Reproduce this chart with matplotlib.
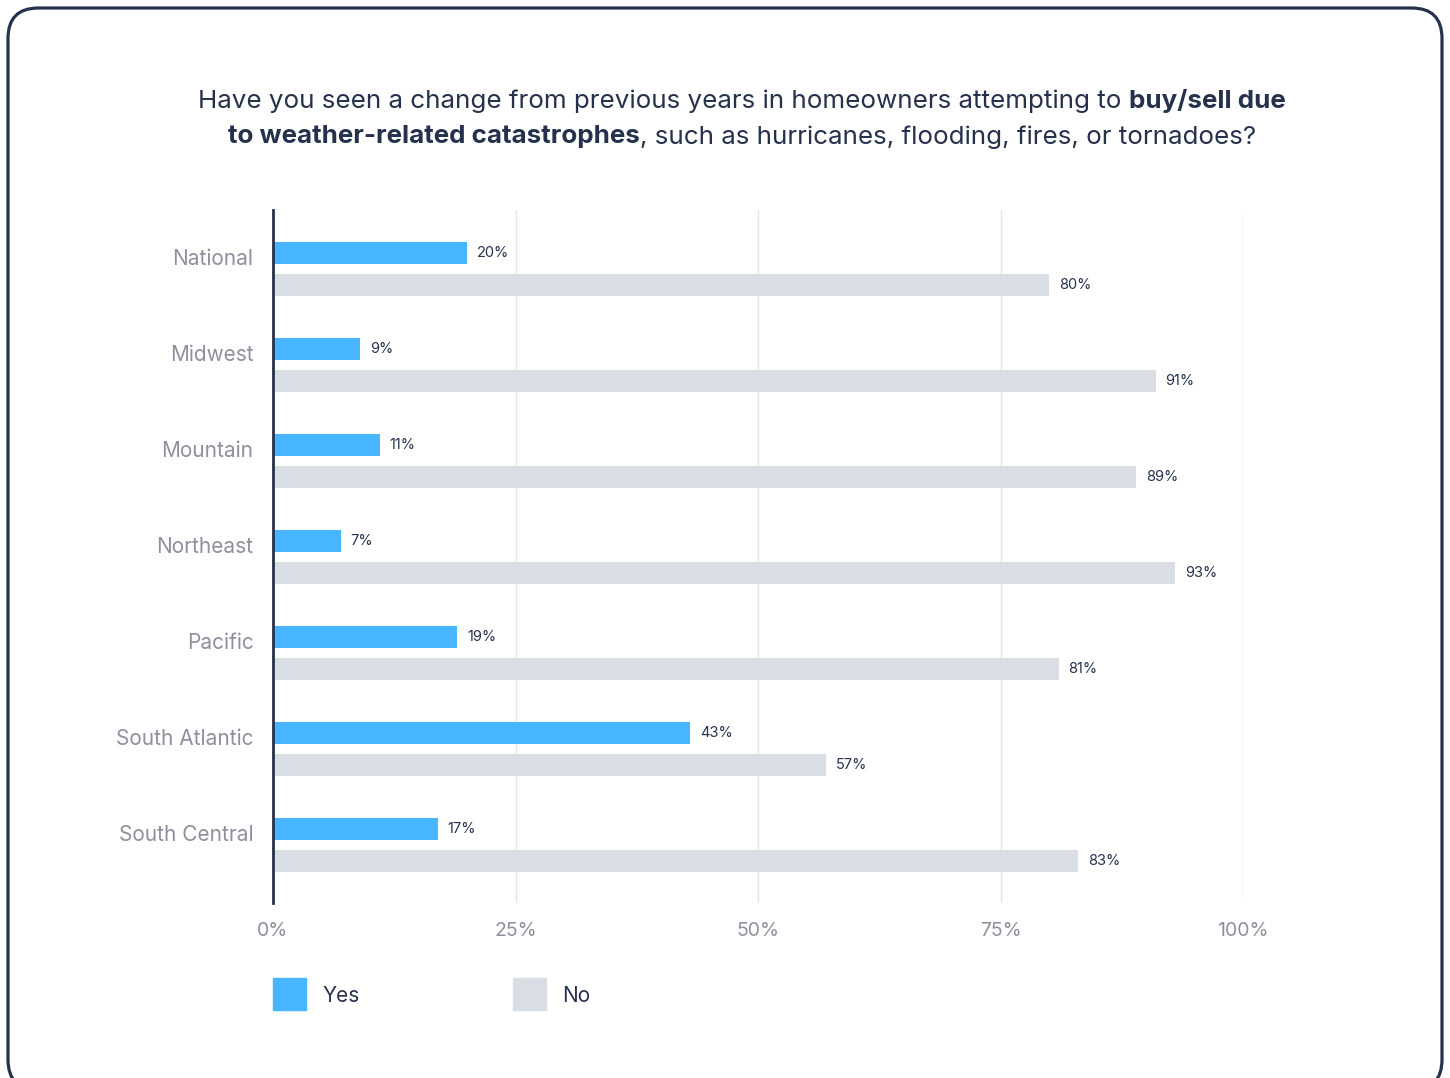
import matplotlib.pyplot as plt
from matplotlib.patches import FancyBboxPatch, Rectangle
import numpy as np

regions = ['National', 'Midwest', 'Mountain', 'Northeast', 'Pacific',
           'South Atlantic', 'South Central']
yes = [20, 9, 11, 7, 19, 43, 17]
no = [80, 91, 89, 93, 81, 57, 83]
series = [('Yes', yes, '#47B5FF'), ('No', no, '#D9DEE5')]
x_ticks = [0, 25, 50, 75, 100]

navy = '#26324D'
gray = '#8E909C'

plt.rcParams['font.family'] = ['Inter', 'DejaVu Sans']

W, H = 1450, 1078
fig = plt.figure(figsize=(W / 100, H / 100), dpi=100)
fig.patch.set_facecolor('white')

# Rounded card border (runs off the bottom edge)
card = FancyBboxPatch((8 / W, -12 / H), 1434 / W, (H - 8 + 12) / H,
                      boxstyle='round,pad=0,rounding_size=0.021',
                      transform=fig.transFigure, fill=False,
                      edgecolor=navy, linewidth=2.3, mutation_aspect=W / H)
fig.patches.append(card)

ax = fig.add_axes([273 / W, 1 - 903 / H, 970 / W, 693 / H])
idx = np.arange(len(regions))
bar_h = 0.229
offset = 0.167
for k, (name, vals, col) in enumerate(series):
    ypos = idx + (offset if k else -offset)
    ax.barh(ypos, vals, height=bar_h, color=col, zorder=2)
    for y, v in zip(ypos, vals):
        ax.annotate(f'{v}%', (v, y), xytext=(7, 0), textcoords='offset points',
                    ha='left', va='center', fontsize=10.5, color=navy)

ax.set_xlim(0, 100)
ax.set_ylim(len(regions) - 0.4, -0.615)
ax.set_xticks(x_ticks)
ax.set_xticklabels([f'{t}%' for t in x_ticks], fontsize=14, color=gray)
ax.set_yticks(idx - 0.125)
ax.set_yticklabels(regions, fontsize=15, color=gray)
ax.tick_params(axis='x', length=0, pad=14)
ax.tick_params(axis='y', length=0, pad=14)
for t in x_ticks[1:]:
    ax.axvline(t, color='#E3E5EA', linewidth=1, zorder=1)
for s in ['top', 'right', 'bottom']:
    ax.spines[s].set_visible(False)
ax.spines['left'].set_color(navy)
ax.spines['left'].set_linewidth(2)
ax.spines['left'].set_zorder(3)

# Title with bold phrases, laid out segment by segment
title_lines = [
    [('Have you seen a change from previous years in homeowners attempting to', 'normal'),
     ('buy/sell due', 'bold')],
    [('to weather-related catastrophes', 'bold'),
     (', such as hurricanes, flooding, fires, or tornadoes?', 'normal')],
]
title_size = 18.7
title_y = [1 - 101 / H, 1 - 137 / H]
cx = 742 / W
fig.canvas.draw()
renderer = fig.canvas.get_renderer()


def text_width(s, weight):
    t = fig.text(0, 0, s, fontsize=title_size, fontweight=weight)
    w = t.get_window_extent(renderer).width
    t.remove()
    return w


space = text_width('a a', 'normal') - text_width('aa', 'normal')
for line, y in zip(title_lines, title_y):
    widths = [text_width(s, wt) for s, wt in line]
    gaps = [0 if s.startswith(',') else space for s, _ in line[1:]]
    total = sum(widths) + sum(gaps)
    x = cx * W - total / 2
    for i, (s, wt) in enumerate(line):
        if i > 0:
            x += gaps[i - 1]
        fig.text(x / W, y, s, fontsize=title_size, fontweight=wt, color=navy,
                 ha='left', va='center')
        x += widths[i]

# Legend
leg_x = [273, 513]
for (name, _, col), lx in zip(series, leg_x):
    fig.patches.append(Rectangle((lx / W, 1 - 1010 / H), 33 / W, 32 / H,
                                 transform=fig.transFigure, color=col))
    fig.text((lx + 49) / W, 1 - 996 / H, name, fontsize=15, color=navy,
             ha='left', va='center')

fig.savefig('out.png', dpi=100)
